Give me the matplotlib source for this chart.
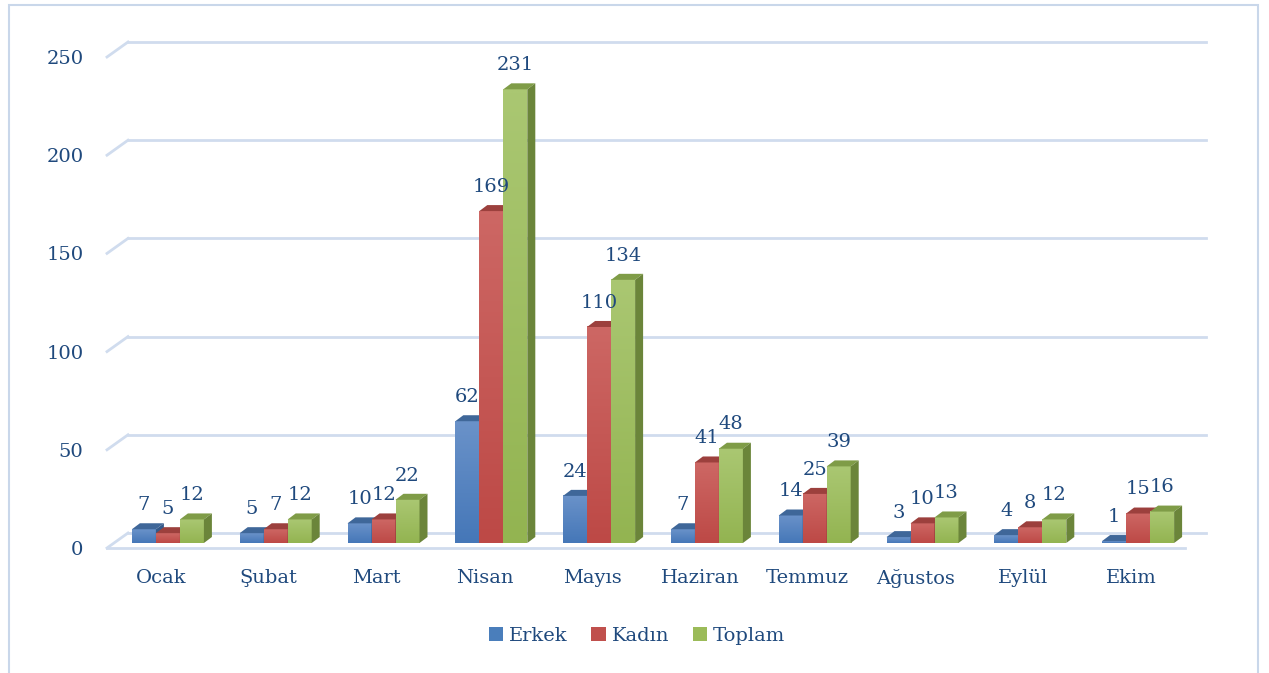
import numpy as np
import matplotlib.pyplot as plt
from matplotlib.patches import Polygon, Patch, Rectangle
from matplotlib.colors import to_rgb

months = ['Ocak', 'Şubat', 'Mart', 'Nisan', 'Mayıs', 'Haziran', 'Temmuz', 'Ağustos', 'Eylül', 'Ekim']
erkek = [7, 5, 10, 62, 24, 7, 14, 3, 4, 1]
kadin = [5, 7, 12, 169, 110, 41, 25, 10, 8, 15]
toplam = [12, 12, 22, 231, 134, 48, 39, 13, 12, 16]
series_names = ['Erkek', 'Kadın', 'Toplam']
yticks = [0, 50, 100, 150, 200, 250]

# front (top light, bottom dark) / top face / side face colours per series
colors = [('#6a92c9', '#4577b8', '#3f6799', '#34598a'),
          ('#cd6764', '#bd4946', '#9c403d', '#8a3735'),
          ('#aac772', '#93b451', '#7f9c47', '#6b853a')]
legend_cols = ['#4a7ebb', '#c0504d', '#9bbb59']
txt_col = '#1f497d'
grid_col = '#d0dcee'

plt.rcParams['font.family'] = 'DejaVu Serif'

fig = plt.figure(figsize=(12.69, 6.73), dpi=100)
ax = fig.add_axes([107/1269, 125/673, 1078/1269, 491/673])

# pixel -> data unit helpers
px_x = 10 / 1078.0
px_y = 250 / 491.0

# back wall grid (3d look)
gdx, gdy = 21 * px_x, 15 * px_y
for v in yticks:
    ax.plot([-0.5 + gdx, 9.5 + gdx], [v + gdy, v + gdy], color=grid_col, lw=2, clip_on=False, zorder=1)
    ax.plot([-0.5, -0.5 + gdx], [v, v + gdy], color=grid_col, lw=2, clip_on=False, zorder=1)
ax.plot([-0.5, 9.5], [0, 0], color=grid_col, lw=2, clip_on=False, zorder=1)

def grad(c_top, c_bot):
    a, b = np.array(to_rgb(c_top)), np.array(to_rgb(c_bot))
    t = np.linspace(0, 1, 64)[:, None]
    return (a * (1 - t) + b * t)[:, None, :]

# bars
w = 24 * px_x
bx, by = 7 * px_x, 5 * px_y
ddx, ddy = 8 * px_x, 6 * px_y
data = [erkek, kadin, toplam]
x = np.arange(len(months))
for i, vals in enumerate(data):
    ftop, fbot, top, side = colors[i]
    img = grad(ftop, fbot)
    for j, v in enumerate(vals):
        x0 = x[j] + bx + (i - 1.5) * w
        x1 = x0 + w
        y0 = by
        y1 = by + v
        z = 3 + j * 3 + i
        ax.imshow(img, extent=(x0, x1, y0, y1), aspect='auto', zorder=z, clip_on=False, interpolation='bilinear')
        ax.add_patch(Polygon([(x0, y1), (x1, y1), (x1 + ddx, y1 + ddy), (x0 + ddx, y1 + ddy)],
                             facecolor=top, edgecolor='none', zorder=z, clip_on=False))
        ax.add_patch(Polygon([(x1, y0), (x1 + ddx, y0 + ddy), (x1 + ddx, y1 + ddy), (x1, y1)],
                             facecolor=side, edgecolor='none', zorder=z, clip_on=False))
        ax.annotate(str(v), (x0 + w / 2, y1), xytext=(0, 11), textcoords='offset points',
                    ha='center', va='bottom', fontsize=14, color=txt_col, zorder=50, annotation_clip=False)

ax.set_xlim(-0.5, 9.5)
ax.set_ylim(0, 250)
ax.set_xticks(x)
ax.set_xticklabels(months)
ax.set_yticks(yticks)
ax.tick_params(axis='both', length=0, labelsize=14, labelcolor=txt_col)
ax.tick_params(axis='y', pad=17)
ax.tick_params(axis='x', pad=15)
for s in ax.spines.values():
    s.set_visible(False)

handles = [Patch(facecolor=c, edgecolor='none') for c in legend_cols]
fig.legend(handles, series_names, loc='center', bbox_to_anchor=(0.502, 1 - 636/673), ncol=3, frameon=False,
           fontsize=14, labelcolor=txt_col, handlelength=0.75, handleheight=0.75, handletextpad=0.3,
           columnspacing=1.2)

# chart border
fig.patches.append(Rectangle((9/1269, -0.01), 1249/1269, 1 - 5/673 + 0.01, transform=fig.transFigure,
                             fill=False, edgecolor='#c9d7ea', lw=1.5))

fig.savefig('out.png', dpi=100)
